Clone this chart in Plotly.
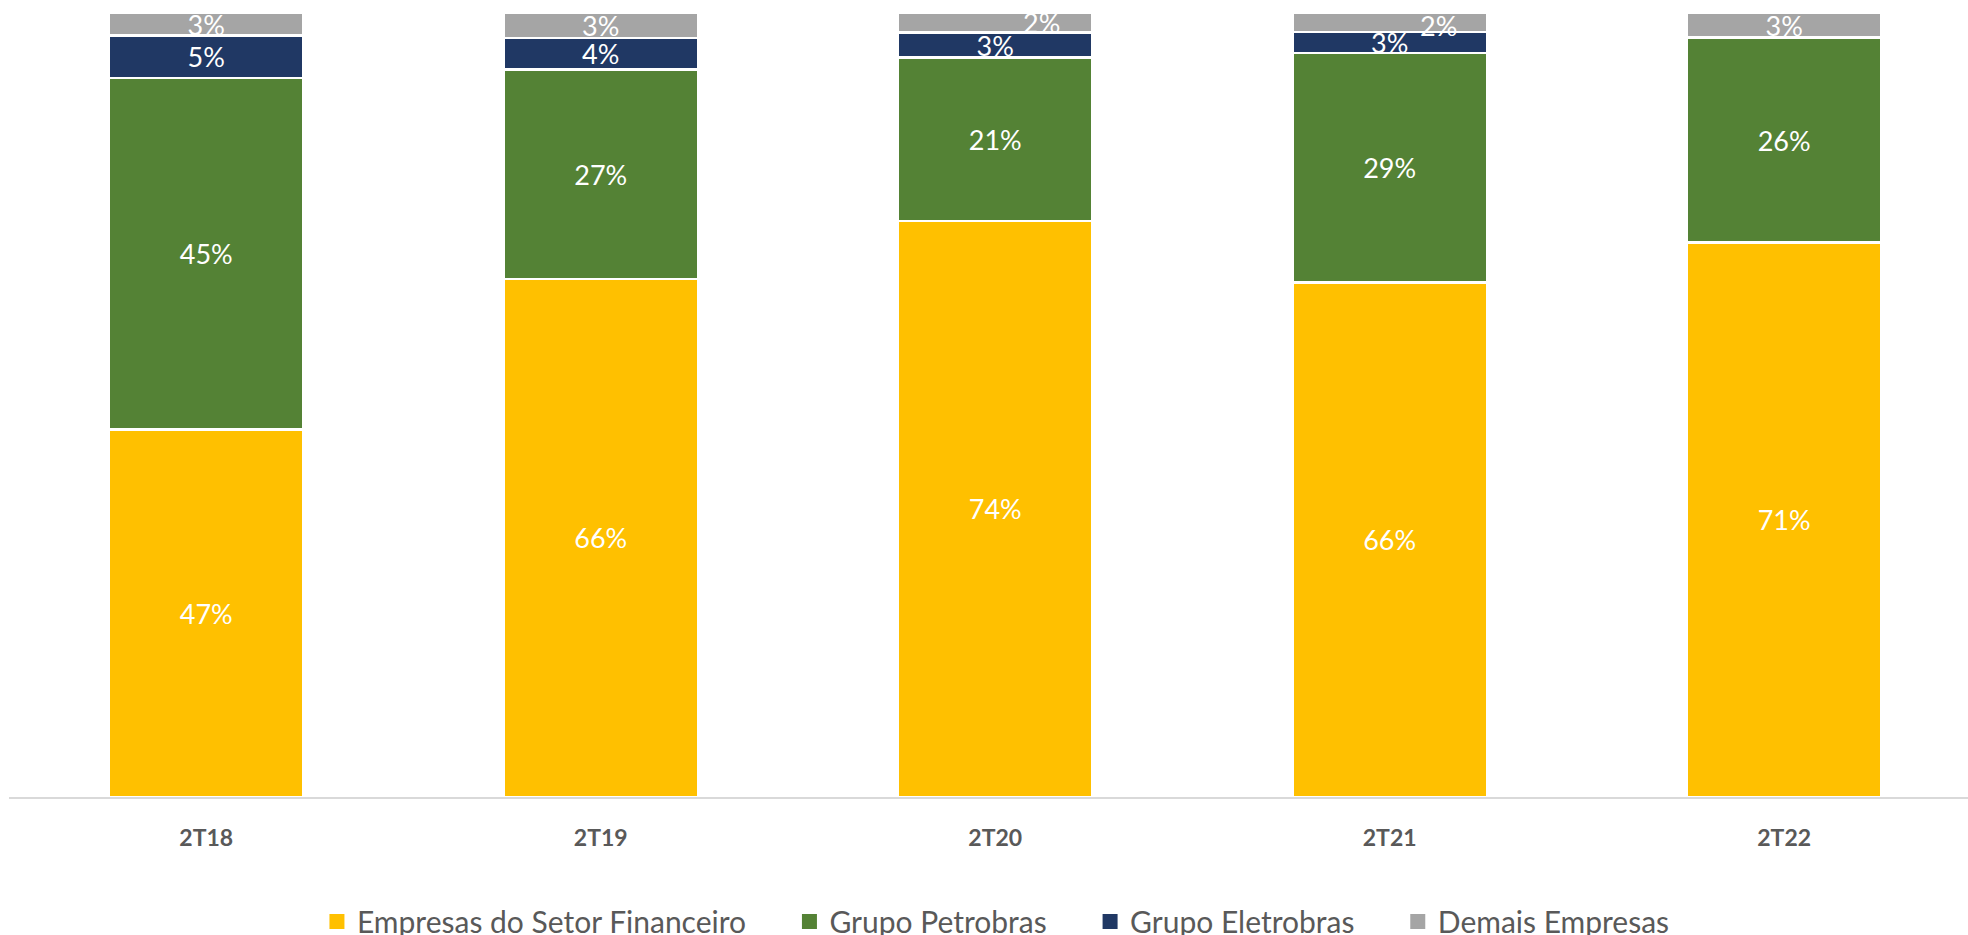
import plotly.graph_objects as go

categories = ["2T18", "2T19", "2T20", "2T21", "2T22"]
setor_financeiro = [46.9, 66.1, 73.5, 65.6, 70.7]
grupo_petrobras = [44.8, 26.7, 20.8, 29.3, 26.2]
grupo_eletrobras = [5.4, 4.0, 3.2, 2.7, 0.0]
demais_empresas = [2.9, 3.2, 2.5, 2.4, 3.1]

series_names = ["Empresas do Setor Financeiro", "Grupo Petrobras", "Grupo Eletrobras", "Demais Empresas"]
series_values = [setor_financeiro, grupo_petrobras, grupo_eletrobras, demais_empresas]
colors = ["#FFC000", "#548235", "#203864", "#A5A5A5"]

# style: pixel shift of the small "Demais" labels that Excel moved aside
demais_label_xshift = [0, 0, 46, 49, 0]
demais_label_yshift = [0, 0, 0, -3, 0]
# style: extra spacing after legend entries
legend_pad = "\u00a0" * 5

FONT = "Lato, Carlito, 'Open Sans', sans-serif"

fig = go.Figure()
n_series = len(series_names)
for k, (name, vals, col) in enumerate(zip(series_names, series_values, colors)):
    texts = []
    for i, v in enumerate(vals):
        if v <= 0:
            texts.append("")
        elif k == 3 and (demais_label_xshift[i] or demais_label_yshift[i]):
            texts.append("")
        else:
            texts.append(f"{v:.0f}%")
    fig.add_trace(go.Bar(
        x=categories, y=vals, name=name, showlegend=False,
        marker=dict(color=col, line=dict(color="white", width=2.5)),
        text=texts, textposition="inside", insidetextanchor="middle",
        textangle=0, constraintext="none", cliponaxis=False,
        textfont=dict(color="white", size=27, family=FONT),
        hoverinfo="skip",
    ))

# legend entries (square swatches like the original)
for k, (name, col) in enumerate(zip(series_names, colors)):
    fig.add_trace(go.Scatter(
        x=[None], y=[None], mode="markers",
        name=name + (legend_pad if k < n_series - 1 else ""),
        marker=dict(symbol="square", size=15, color=col),
        hoverinfo="skip",
    ))

annotations = []
for i, cat in enumerate(categories):
    if demais_label_xshift[i] or demais_label_yshift[i]:
        base = setor_financeiro[i] + grupo_petrobras[i] + grupo_eletrobras[i]
        annotations.append(dict(
            x=cat, y=base + demais_empresas[i] / 2, xref="x", yref="y",
            text=f"{demais_empresas[i]:.0f}%", showarrow=False,
            xshift=demais_label_xshift[i], yshift=demais_label_yshift[i],
            font=dict(color="white", size=27, family=FONT),
        ))

fig.update_layout(
    width=1968, height=935,
    barmode="stack", bargap=0.506,
    paper_bgcolor="white", plot_bgcolor="white",
    margin=dict(l=9, r=0, t=12.5, b=137.5, pad=0),
    font=dict(family=FONT, color="#595959"),
    showlegend=True,
    legend=dict(
        orientation="h", x=0.5038, xanchor="center",
        yref="container", y=0.0145, yanchor="middle",
        font=dict(size=30, color="#595959", family=FONT),
        traceorder="normal",
    ),
    annotations=annotations,
)
fig.update_xaxes(
    range=[-0.5, 4.466], showline=True, linecolor="#D9D9D9", linewidth=2,
    ticks="", showgrid=False, zeroline=False,
    tickfont=dict(size=23, color="#595959", family=FONT, weight="bold"),
    ticklabelstandoff=19,
)
fig.update_yaxes(range=[0, 100], visible=False, showgrid=False, zeroline=False)

fig.write_html("out.html", config={"displayModeBar": False},
               post_script="document.body.style.margin='0';")
